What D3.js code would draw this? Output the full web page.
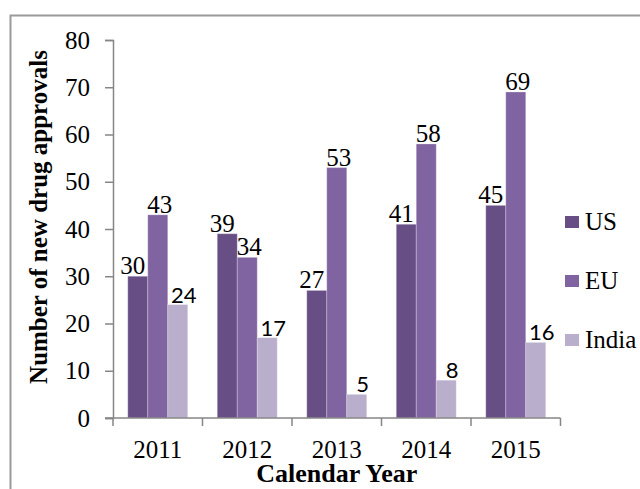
<!DOCTYPE html>
<html>
<head>
<meta charset="utf-8">
<script src="https://cdn.jsdelivr.net/npm/d3@7"></script>
<style>
	body { margin: 0; background: #fff; }
	svg { display: block; }
	.axis path, .axis line { stroke: #868686; stroke-width: 1.5; }
	.axis text { font-family: "Liberation Serif", "Times New Roman", serif; font-size: 25px; fill: #000; }
</style>
</head>
<body>
<div id="chart"></div>
<script>

var years = ["2011", "2012", "2013", "2014", "2015"];
var seriesNames = ["US", "EU", "India"];
var usValues = [30, 39, 27, 41, 45];
var euValues = [43, 34, 53, 58, 69];
var indiaValues = [24, 17, 5, 8, 16];
var yTicks = [0, 10, 20, 30, 40, 50, 60, 70, 80];

var colors = ["#674f86", "#8064a2", "#b9aecb"];
// label shifts roughly as excel placed them to dodge each other
var labelShift = [-5, 2, 6];

var width = 640, height = 489;
var margin = {top: 40, right: 80, bottom: 71, left: 113};
var innerW = 560.5 - margin.left;
var innerH = 418 - margin.top;

var serif = "'Liberation Serif', 'Times New Roman', serif";

var svg = d3.select("#chart").append("svg")
	.attr("width", width)
	.attr("height", height);

// chart area border
svg.append("rect")
	.attr("x", 10.5)
	.attr("y", 15.5)
	.attr("width", 640)
	.attr("height", 500)
	.attr("fill", "none")
	.attr("stroke", "#9a9a9a")
	.attr("stroke-width", 2);

var g = svg.append("g")
	.attr("transform", "translate(" + margin.left + "," + margin.top + ")");

var x0 = d3.scaleBand().domain(years).range([0, innerW]).paddingInner(0.33).paddingOuter(0.165);
var x1 = d3.scaleBand().domain(seriesNames).range([0, x0.bandwidth()]);
var y = d3.scaleLinear().domain([0, 80]).range([innerH, 0]);

var data = years.map(function(yr, i) {
	return {year: yr, values: [usValues[i], euValues[i], indiaValues[i]]};
});

var toItems = function(d) {
	return d.values.map(function(v, j) { return {name: seriesNames[j], value: v, idx: j}; });
};

// bars
var groups = g.selectAll("g.group")
	.data(data)
	.enter().append("g")
	.attr("class", "group")
	.attr("transform", function(d) { return "translate(" + x0(d.year) + ",0)"; });

groups.selectAll("rect")
	.data(toItems)
	.enter().append("rect")
	.attr("x", function(d) { return x1(d.name); })
	.attr("y", function(d) { return y(d.value); })
	.attr("width", x1.bandwidth())
	.attr("height", function(d) { return innerH - y(d.value); })
	.attr("fill", function(d) { return colors[d.idx]; })
	.attr("stroke", "rgba(255,255,255,0.25)")
	.attr("stroke-width", 1);

// value labels (india ones came out in a sans font in the original)
groups.selectAll("text.val")
	.data(toItems)
	.enter().append("text")
	.attr("class", "val")
	.attr("x", function(d) { return x1(d.name) + x1.bandwidth() / 2 + labelShift[d.idx]; })
	.attr("y", function(d) { return y(d.value) - 2; })
	.attr("text-anchor", "middle")
	.style("font-family", function(d) { return d.idx === 2 ? "Lato, 'Liberation Sans', sans-serif" : serif; })
	.style("font-size", function(d) { return d.idx === 2 ? "22px" : "25px"; })
	.attr("fill", "#000")
	.text(function(d) { return d.value; });

// y axis
var yAxis = d3.axisLeft(y).tickValues(yTicks).tickSize(8).tickPadding(15).tickSizeOuter(8);
g.append("g")
	.attr("class", "y axis")
	.call(yAxis);

// x axis: ticks at category boundaries
var xAxisG = g.append("g")
	.attr("class", "x axis")
	.attr("transform", "translate(0," + innerH + ")");

xAxisG.append("line")
	.attr("x1", -8).attr("x2", innerW)
	.attr("y1", 0).attr("y2", 0);

var step = x0.step();
xAxisG.selectAll("line.tick")
	.data(d3.range(years.length + 1))
	.enter().append("line")
	.attr("class", "tick")
	.attr("x1", function(i) { return i * step; })
	.attr("x2", function(i) { return i * step; })
	.attr("y1", 0).attr("y2", 8);

xAxisG.selectAll("text")
	.data(years)
	.enter().append("text")
	.attr("x", function(d) { return x0(d) + x0.bandwidth() / 2; })
	.attr("y", 40)
	.attr("text-anchor", "middle")
	.text(function(d) { return d; });

// axis titles
svg.append("text")
	.attr("text-anchor", "middle")
	.attr("transform", "translate(47,217)rotate(-90)")
	.style("font-family", serif)
	.style("font-weight", "bold")
	.style("font-size", "25px")
	.text("Number of new drug approvals");

svg.append("text")
	.attr("text-anchor", "middle")
	.attr("x", margin.left + innerW / 2)
	.attr("y", 482)
	.style("font-family", serif)
	.style("font-weight", "bold")
	.style("font-size", "26px")
	.text("Calendar Year");

// legend
var legendY = [222, 281, 340];
var legend = svg.selectAll("g.legend")
	.data(seriesNames)
	.enter().append("g")
	.attr("class", "legend")
	.attr("transform", function(d, i) { return "translate(565," + legendY[i] + ")"; });

legend.append("rect")
	.attr("x", 0).attr("y", -6)
	.attr("width", 14).attr("height", 12)
	.attr("fill", function(d, i) { return colors[i]; });

legend.append("text")
	.attr("x", 20)
	.attr("y", 8)
	.style("font-family", serif)
	.style("font-size", "25px")
	.text(function(d) { return d; });

</script>
</body>
</html>
